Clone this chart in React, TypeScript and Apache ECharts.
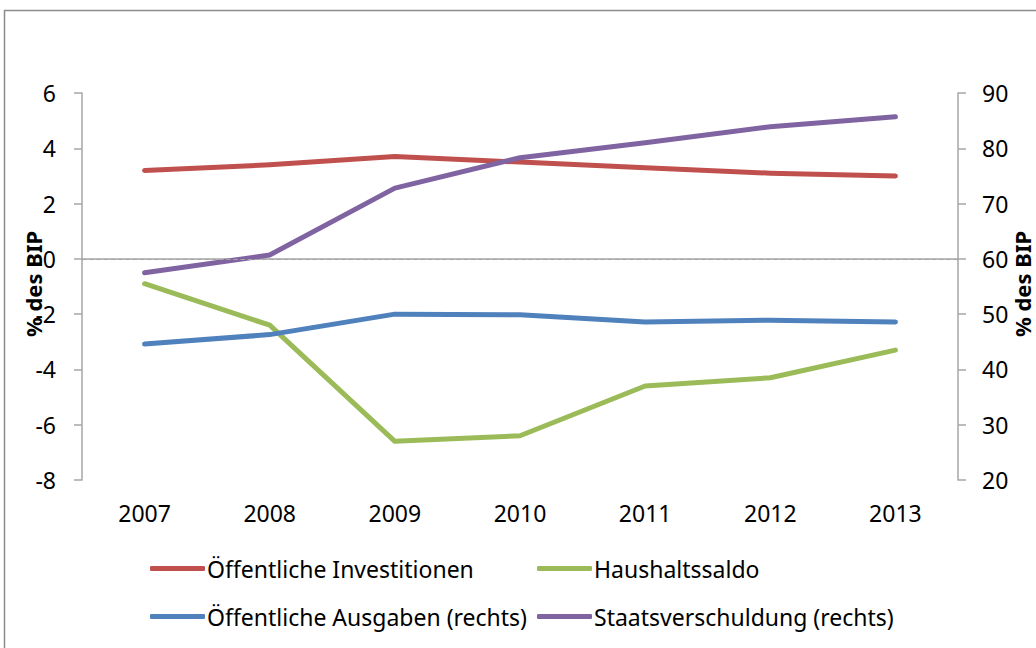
import React, { useEffect, useRef } from "react";
import * as echarts from "echarts";

const years = ["2007", "2008", "2009", "2010", "2011", "2012", "2013"];
const investitionen = [3.2, 3.4, 3.7, 3.5, 3.3, 3.1, 3.0];
const haushaltssaldo = [-0.9, -2.4, -6.6, -6.4, -4.6, -4.3, -3.3];
const ausgaben = [44.6, 46.3, 50.0, 49.9, 48.6, 48.9, 48.6];
const verschuldung = [57.5, 60.7, 72.8, 78.3, 81.0, 83.9, 85.7];

const names = [
  "Öffentliche Investitionen",
  "Haushaltssaldo",
  "Öffentliche Ausgaben (rechts)",
  "Staatsverschuldung (rechts)",
];
const colors = ["#C0504D", "#9BBB59", "#4F81BD", "#8064A2"];

const FONT = "Noto Sans";
const FS = 23;

export default function App() {
  const ref = useRef<HTMLDivElement>(null);
  useEffect(() => {
    const chart = echarts.init(ref.current!, null, { renderer: "svg" });
    const mkSeries = (i: number, data: number[], yAxisIndex: number) => ({
      name: names[i],
      type: "line",
      data,
      yAxisIndex,
      showSymbol: false,
      symbol: "none",
      lineStyle: { color: colors[i], width: 5, cap: "round", join: "round" },
      itemStyle: { color: colors[i] },
      ...(i === 0
        ? {
            markLine: {
              silent: true,
              symbol: "none",
              label: { show: false },
              lineStyle: { color: "#a6a6a6", type: "dashed", width: 1.2 },
              data: [{ yAxis: 0 }],
            },
          }
        : {}),
    });
    const legendPos = [
      { left: 150, top: 557 },
      { left: 537, top: 557 },
      { left: 150, top: 605 },
      { left: 537, top: 605 },
    ];
    chart.setOption({
      animation: false,
      backgroundColor: "#ffffff",
      grid: { left: 82, right: 78, top: 93, bottom: 168 },
      legend: names.map((n, i) => ({
        data: [n],
        left: legendPos[i].left,
        top: legendPos[i].top,
        icon: "roundRect",
        itemWidth: 55,
        itemHeight: 5,
        padding: 0,
        selectedMode: false,
        textStyle: { fontFamily: FONT, fontSize: FS, color: "#000", padding: [0, 0, 0, -3] },
      })),
      xAxis: {
        type: "category",
        data: years,
        boundaryGap: true,
        axisLine: { lineStyle: { color: "#a6a6a6", width: 1.5 } },
        axisTick: { show: false },
        axisLabel: { fontFamily: FONT, fontSize: FS, color: "#000", margin: 21 },
      },
      yAxis: [
        {
          type: "value",
          min: -8,
          max: 6,
          interval: 2,
          axisLine: { show: true, lineStyle: { color: "#a6a6a6", width: 1.5 } },
          axisTick: { show: true, length: 8, lineStyle: { color: "#a6a6a6", width: 1.5 } },
          splitLine: { show: false },
          axisLabel: { fontFamily: FONT, fontSize: FS, color: "#000", margin: 26 },
        },
        {
          type: "value",
          min: 20,
          max: 90,
          interval: 10,
          position: "right",
          axisLine: { show: true, lineStyle: { color: "#a6a6a6", width: 1.5 } },
          axisTick: { show: true, length: 8, lineStyle: { color: "#a6a6a6", width: 1.5 } },
          splitLine: { show: false },
          axisLabel: { fontFamily: FONT, fontSize: FS, color: "#000", margin: 24 },
        },
      ],
      graphic: [
        {
          type: "rect",
          shape: { x: 4.5, y: 10.5, width: 1200, height: 800 },
          style: { fill: "none", stroke: "#8c8c8c", lineWidth: 1.5 },
          silent: true,
          z: -1,
        },
        {
          type: "text",
          x: 33,
          y: 284,
          rotation: Math.PI / 2,
          style: {
            text: "% des BIP",
            fontFamily: FONT,
            fontSize: 22,
            fontWeight: "bold",
            fill: "#000",
            textAlign: "center",
            textVerticalAlign: "middle",
          },
        },
        {
          type: "text",
          x: 1022,
          y: 284,
          rotation: Math.PI / 2,
          style: {
            text: "% des BIP",
            fontFamily: FONT,
            fontSize: 22,
            fontWeight: "bold",
            fill: "#000",
            textAlign: "center",
            textVerticalAlign: "middle",
          },
        },
      ],
      series: [
        mkSeries(0, investitionen, 0),
        mkSeries(1, haushaltssaldo, 0),
        mkSeries(2, ausgaben, 1),
        mkSeries(3, verschuldung, 1),
      ],
    });
    return () => chart.dispose();
  }, []);
  return (
    <div
      ref={ref}
      style={{ position: "fixed", left: 0, top: 0, width: 1036, height: 648, background: "#fff" }}
    />
  );
}
